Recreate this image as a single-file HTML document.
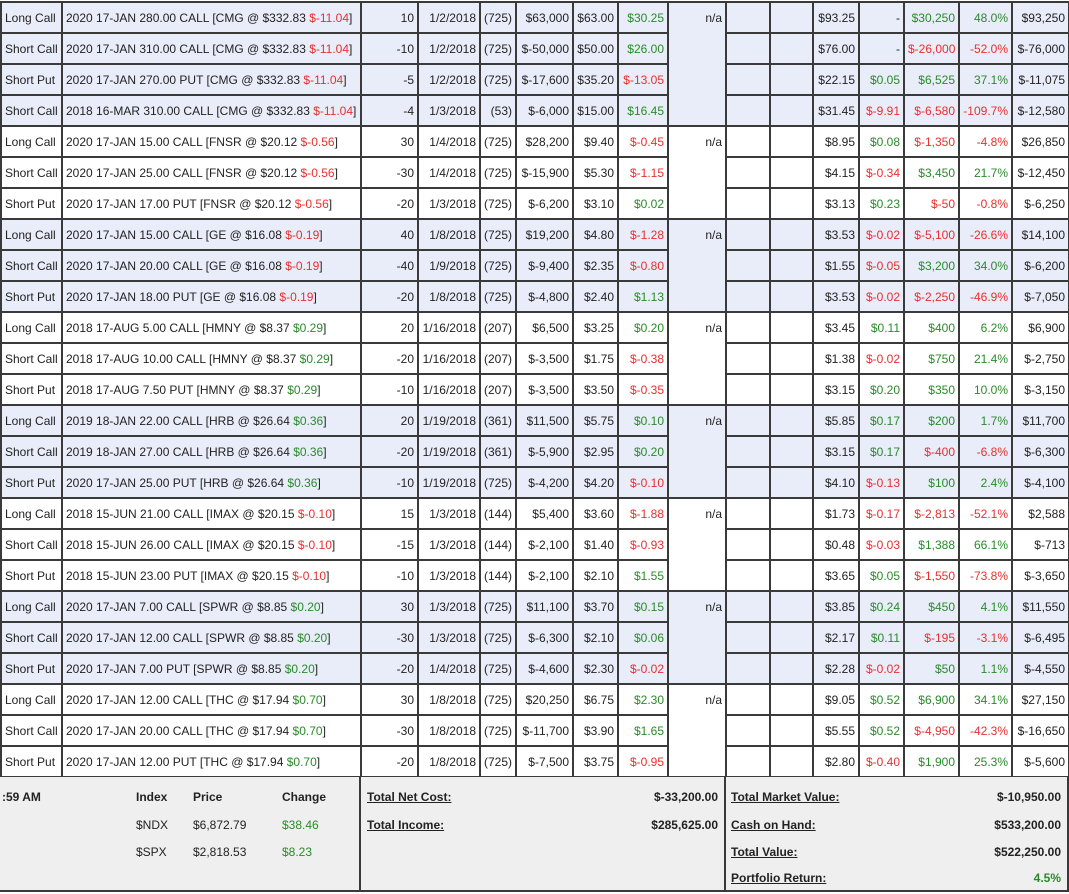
<!DOCTYPE html>
<html><head><meta charset="utf-8">
<style>
body{margin:0;width:1069px;height:894px;overflow:hidden;background:#fff;font-family:"Liberation Sans",Arial,sans-serif;font-size:12px;color:#222;position:relative}
table{position:absolute;left:0;top:1px;border-collapse:collapse;table-layout:fixed;width:1068px}
td{border:2px solid #3a3a3a;padding:0 3px;text-align:right;white-space:nowrap;overflow:hidden;height:27px}
td:nth-child(1),td:nth-child(2){text-align:left}
tr{height:31px}
tr.b td{background:#e8edf9}
td.na{vertical-align:top;padding-top:8px}
.g{color:#2a8a2a}.r{color:#e8302f}
#ft{position:absolute;left:0;top:777px;width:1067px;height:113px;background:#efefef;border-bottom:2px solid #3a3a3a;border-right:2px solid #3a3a3a}
.sep{position:absolute;top:0;bottom:0;width:2px;background:#3a3a3a}
.t{position:absolute;font-weight:bold;white-space:nowrap}
.n{position:absolute;white-space:nowrap}
.u{text-decoration:underline}
</style></head><body>
<table>
<colgroup><col style="width:61px"><col style="width:299px"><col style="width:57px"><col style="width:62px"><col style="width:36px"><col style="width:57px"><col style="width:45px"><col style="width:50px"><col style="width:58px"><col style="width:44px"><col style="width:43px"><col style="width:46px"><col style="width:45px"><col style="width:55px"><col style="width:53px"><col style="width:57px"></colgroup>
<tr class="b"><td>Long Call</td><td>2020 17-JAN 280.00 CALL [CMG @ $332.83 <span class="r">$-11.04</span>]</td><td>10</td><td>1/2/2018</td><td>(725)</td><td>$63,000</td><td>$63.00</td><td class="g">$30.25</td><td class="na" rowspan="4">n/a</td><td></td><td></td><td>$93.25</td><td>-</td><td class="g">$30,250</td><td class="g">48.0%</td><td>$93,250</td></tr>
<tr class="b"><td>Short Call</td><td>2020 17-JAN 310.00 CALL [CMG @ $332.83 <span class="r">$-11.04</span>]</td><td>-10</td><td>1/2/2018</td><td>(725)</td><td>$-50,000</td><td>$50.00</td><td class="g">$26.00</td><td></td><td></td><td>$76.00</td><td>-</td><td class="r">$-26,000</td><td class="r">-52.0%</td><td>$-76,000</td></tr>
<tr class="b"><td>Short Put</td><td>2020 17-JAN 270.00 PUT [CMG @ $332.83 <span class="r">$-11.04</span>]</td><td>-5</td><td>1/2/2018</td><td>(725)</td><td>$-17,600</td><td>$35.20</td><td class="r">$-13.05</td><td></td><td></td><td>$22.15</td><td class="g">$0.05</td><td class="g">$6,525</td><td class="g">37.1%</td><td>$-11,075</td></tr>
<tr class="b"><td>Short Call</td><td>2018 16-MAR 310.00 CALL [CMG @ $332.83 <span class="r">$-11.04</span>]</td><td>-4</td><td>1/3/2018</td><td>(53)</td><td>$-6,000</td><td>$15.00</td><td class="g">$16.45</td><td></td><td></td><td>$31.45</td><td class="r">$-9.91</td><td class="r">$-6,580</td><td class="r">-109.7%</td><td>$-12,580</td></tr>

<tr><td>Long Call</td><td>2020 17-JAN 15.00 CALL [FNSR @ $20.12 <span class="r">$-0.56</span>]</td><td>30</td><td>1/4/2018</td><td>(725)</td><td>$28,200</td><td>$9.40</td><td class="r">$-0.45</td><td class="na" rowspan="3">n/a</td><td></td><td></td><td>$8.95</td><td class="g">$0.08</td><td class="r">$-1,350</td><td class="r">-4.8%</td><td>$26,850</td></tr>
<tr><td>Short Call</td><td>2020 17-JAN 25.00 CALL [FNSR @ $20.12 <span class="r">$-0.56</span>]</td><td>-30</td><td>1/4/2018</td><td>(725)</td><td>$-15,900</td><td>$5.30</td><td class="r">$-1.15</td><td></td><td></td><td>$4.15</td><td class="r">$-0.34</td><td class="g">$3,450</td><td class="g">21.7%</td><td>$-12,450</td></tr>
<tr><td>Short Put</td><td>2020 17-JAN 17.00 PUT [FNSR @ $20.12 <span class="r">$-0.56</span>]</td><td>-20</td><td>1/3/2018</td><td>(725)</td><td>$-6,200</td><td>$3.10</td><td class="g">$0.02</td><td></td><td></td><td>$3.13</td><td class="g">$0.23</td><td class="r">$-50</td><td class="r">-0.8%</td><td>$-6,250</td></tr>

<tr class="b"><td>Long Call</td><td>2020 17-JAN 15.00 CALL [GE @ $16.08 <span class="r">$-0.19</span>]</td><td>40</td><td>1/8/2018</td><td>(725)</td><td>$19,200</td><td>$4.80</td><td class="r">$-1.28</td><td class="na" rowspan="3">n/a</td><td></td><td></td><td>$3.53</td><td class="r">$-0.02</td><td class="r">$-5,100</td><td class="r">-26.6%</td><td>$14,100</td></tr>
<tr class="b"><td>Short Call</td><td>2020 17-JAN 20.00 CALL [GE @ $16.08 <span class="r">$-0.19</span>]</td><td>-40</td><td>1/9/2018</td><td>(725)</td><td>$-9,400</td><td>$2.35</td><td class="r">$-0.80</td><td></td><td></td><td>$1.55</td><td class="r">$-0.05</td><td class="g">$3,200</td><td class="g">34.0%</td><td>$-6,200</td></tr>
<tr class="b"><td>Short Put</td><td>2020 17-JAN 18.00 PUT [GE @ $16.08 <span class="r">$-0.19</span>]</td><td>-20</td><td>1/8/2018</td><td>(725)</td><td>$-4,800</td><td>$2.40</td><td class="g">$1.13</td><td></td><td></td><td>$3.53</td><td class="r">$-0.02</td><td class="r">$-2,250</td><td class="r">-46.9%</td><td>$-7,050</td></tr>

<tr><td>Long Call</td><td>2018 17-AUG 5.00 CALL [HMNY @ $8.37 <span class="g">$0.29</span>]</td><td>20</td><td>1/16/2018</td><td>(207)</td><td>$6,500</td><td>$3.25</td><td class="g">$0.20</td><td class="na" rowspan="3">n/a</td><td></td><td></td><td>$3.45</td><td class="g">$0.11</td><td class="g">$400</td><td class="g">6.2%</td><td>$6,900</td></tr>
<tr><td>Short Call</td><td>2018 17-AUG 10.00 CALL [HMNY @ $8.37 <span class="g">$0.29</span>]</td><td>-20</td><td>1/16/2018</td><td>(207)</td><td>$-3,500</td><td>$1.75</td><td class="r">$-0.38</td><td></td><td></td><td>$1.38</td><td class="r">$-0.02</td><td class="g">$750</td><td class="g">21.4%</td><td>$-2,750</td></tr>
<tr><td>Short Put</td><td>2018 17-AUG 7.50 PUT [HMNY @ $8.37 <span class="g">$0.29</span>]</td><td>-10</td><td>1/16/2018</td><td>(207)</td><td>$-3,500</td><td>$3.50</td><td class="r">$-0.35</td><td></td><td></td><td>$3.15</td><td class="g">$0.20</td><td class="g">$350</td><td class="g">10.0%</td><td>$-3,150</td></tr>

<tr class="b"><td>Long Call</td><td>2019 18-JAN 22.00 CALL [HRB @ $26.64 <span class="g">$0.36</span>]</td><td>20</td><td>1/19/2018</td><td>(361)</td><td>$11,500</td><td>$5.75</td><td class="g">$0.10</td><td class="na" rowspan="3">n/a</td><td></td><td></td><td>$5.85</td><td class="g">$0.17</td><td class="g">$200</td><td class="g">1.7%</td><td>$11,700</td></tr>
<tr class="b"><td>Short Call</td><td>2019 18-JAN 27.00 CALL [HRB @ $26.64 <span class="g">$0.36</span>]</td><td>-20</td><td>1/19/2018</td><td>(361)</td><td>$-5,900</td><td>$2.95</td><td class="g">$0.20</td><td></td><td></td><td>$3.15</td><td class="g">$0.17</td><td class="r">$-400</td><td class="r">-6.8%</td><td>$-6,300</td></tr>
<tr class="b"><td>Short Put</td><td>2020 17-JAN 25.00 PUT [HRB @ $26.64 <span class="g">$0.36</span>]</td><td>-10</td><td>1/19/2018</td><td>(725)</td><td>$-4,200</td><td>$4.20</td><td class="r">$-0.10</td><td></td><td></td><td>$4.10</td><td class="r">$-0.13</td><td class="g">$100</td><td class="g">2.4%</td><td>$-4,100</td></tr>

<tr><td>Long Call</td><td>2018 15-JUN 21.00 CALL [IMAX @ $20.15 <span class="r">$-0.10</span>]</td><td>15</td><td>1/3/2018</td><td>(144)</td><td>$5,400</td><td>$3.60</td><td class="r">$-1.88</td><td class="na" rowspan="3">n/a</td><td></td><td></td><td>$1.73</td><td class="r">$-0.17</td><td class="r">$-2,813</td><td class="r">-52.1%</td><td>$2,588</td></tr>
<tr><td>Short Call</td><td>2018 15-JUN 26.00 CALL [IMAX @ $20.15 <span class="r">$-0.10</span>]</td><td>-15</td><td>1/3/2018</td><td>(144)</td><td>$-2,100</td><td>$1.40</td><td class="r">$-0.93</td><td></td><td></td><td>$0.48</td><td class="r">$-0.03</td><td class="g">$1,388</td><td class="g">66.1%</td><td>$-713</td></tr>
<tr><td>Short Put</td><td>2018 15-JUN 23.00 PUT [IMAX @ $20.15 <span class="r">$-0.10</span>]</td><td>-10</td><td>1/3/2018</td><td>(144)</td><td>$-2,100</td><td>$2.10</td><td class="g">$1.55</td><td></td><td></td><td>$3.65</td><td class="g">$0.05</td><td class="r">$-1,550</td><td class="r">-73.8%</td><td>$-3,650</td></tr>

<tr class="b"><td>Long Call</td><td>2020 17-JAN 7.00 CALL [SPWR @ $8.85 <span class="g">$0.20</span>]</td><td>30</td><td>1/3/2018</td><td>(725)</td><td>$11,100</td><td>$3.70</td><td class="g">$0.15</td><td class="na" rowspan="3">n/a</td><td></td><td></td><td>$3.85</td><td class="g">$0.24</td><td class="g">$450</td><td class="g">4.1%</td><td>$11,550</td></tr>
<tr class="b"><td>Short Call</td><td>2020 17-JAN 12.00 CALL [SPWR @ $8.85 <span class="g">$0.20</span>]</td><td>-30</td><td>1/3/2018</td><td>(725)</td><td>$-6,300</td><td>$2.10</td><td class="g">$0.06</td><td></td><td></td><td>$2.17</td><td class="g">$0.11</td><td class="r">$-195</td><td class="r">-3.1%</td><td>$-6,495</td></tr>
<tr class="b"><td>Short Put</td><td>2020 17-JAN 7.00 PUT [SPWR @ $8.85 <span class="g">$0.20</span>]</td><td>-20</td><td>1/4/2018</td><td>(725)</td><td>$-4,600</td><td>$2.30</td><td class="r">$-0.02</td><td></td><td></td><td>$2.28</td><td class="r">$-0.02</td><td class="g">$50</td><td class="g">1.1%</td><td>$-4,550</td></tr>

<tr><td>Long Call</td><td>2020 17-JAN 12.00 CALL [THC @ $17.94 <span class="g">$0.70</span>]</td><td>30</td><td>1/8/2018</td><td>(725)</td><td>$20,250</td><td>$6.75</td><td class="g">$2.30</td><td class="na" rowspan="3">n/a</td><td></td><td></td><td>$9.05</td><td class="g">$0.52</td><td class="g">$6,900</td><td class="g">34.1%</td><td>$27,150</td></tr>
<tr><td>Short Call</td><td>2020 17-JAN 20.00 CALL [THC @ $17.94 <span class="g">$0.70</span>]</td><td>-30</td><td>1/8/2018</td><td>(725)</td><td>$-11,700</td><td>$3.90</td><td class="g">$1.65</td><td></td><td></td><td>$5.55</td><td class="g">$0.52</td><td class="r">$-4,950</td><td class="r">-42.3%</td><td>$-16,650</td></tr>
<tr><td>Short Put</td><td>2020 17-JAN 12.00 PUT [THC @ $17.94 <span class="g">$0.70</span>]</td><td>-20</td><td>1/8/2018</td><td>(725)</td><td>$-7,500</td><td>$3.75</td><td class="r">$-0.95</td><td></td><td></td><td>$2.80</td><td class="r">$-0.40</td><td class="g">$1,900</td><td class="g">25.3%</td><td>$-5,600</td></tr>
</table>

<div id="ft">
<div class="sep" style="left:359px"></div>
<div class="sep" style="left:724px"></div>
<div class="t" style="left:2px;top:13px">:59 AM</div>
<div class="t" style="left:136px;top:13px">Index</div>
<div class="t" style="left:193px;top:13px">Price</div>
<div class="t" style="left:282px;top:13px">Change</div>
<div class="n" style="left:136px;top:41px">$NDX</div>
<div class="n" style="left:193px;top:41px">$6,872.79</div>
<div class="n g" style="left:282px;top:41px">$38.46</div>
<div class="n" style="left:136px;top:68px">$SPX</div>
<div class="n" style="left:193px;top:68px">$2,818.53</div>
<div class="n g" style="left:282px;top:68px">$8.23</div>

<div class="t u" style="left:367px;top:13px">Total Net Cost:</div>
<div class="t u" style="left:367px;top:41px">Total Income:</div>
<div class="t" style="right:349px;top:13px">$-33,200.00</div>
<div class="t" style="right:349px;top:41px">$285,625.00</div>

<div class="t u" style="left:731px;top:13px">Total Market Value:</div>
<div class="t u" style="left:731px;top:41px">Cash on Hand:</div>
<div class="t u" style="left:731px;top:68px">Total Value:</div>
<div class="t u" style="left:731px;top:94px">Portfolio Return:</div>
<div class="t" style="right:6px;top:13px">$-10,950.00</div>
<div class="t" style="right:6px;top:41px">$533,200.00</div>
<div class="t" style="right:6px;top:68px">$522,250.00</div>
<div class="t g" style="right:6px;top:94px">4.5%</div>
</div>
</body></html>
